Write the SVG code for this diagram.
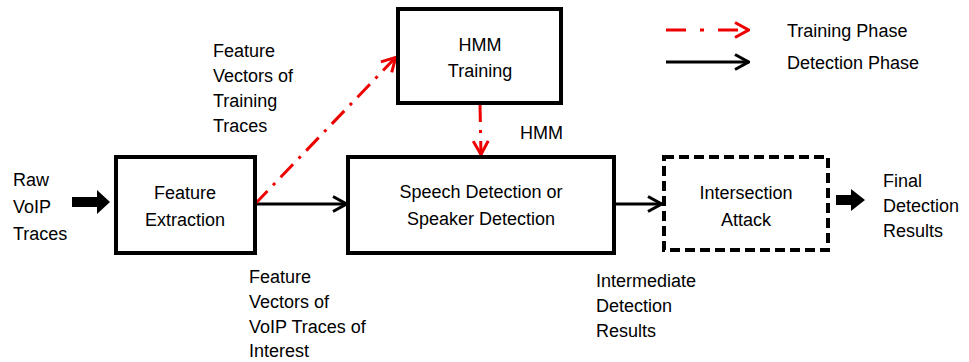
<svg xmlns="http://www.w3.org/2000/svg" width="969" height="362" viewBox="0 0 969 362">
<defs>
<marker id="ab" viewBox="0 0 16 18" refX="15" refY="9" markerWidth="16" markerHeight="18" markerUnits="userSpaceOnUse" orient="auto">
<path d="M1,1.5 L14.5,9 L1,16.5" fill="none" stroke="#000" stroke-width="3"/>
</marker>
<marker id="ar" viewBox="0 0 16 18" refX="15" refY="9" markerWidth="16" markerHeight="18" markerUnits="userSpaceOnUse" orient="auto">
<path d="M1,1.5 L14.5,9 L1,16.5" fill="none" stroke="#e00" stroke-width="3"/>
</marker>
</defs>
<style>
.box{fill:#fff;stroke:#000;stroke-width:4}
.dbox{fill:#fff;stroke:#000;stroke-width:4;stroke-dasharray:10,5}
.t{font-family:"Liberation Sans",Arial,sans-serif;font-size:18px;fill:#000}
.c{text-anchor:middle}
.blk{stroke:#000;stroke-width:3;fill:none;marker-end:url(#ab)}
.red{stroke:#e00;stroke-width:3;fill:none;stroke-dasharray:18,8,3,8;marker-end:url(#ar)}
</style>
<rect width="969" height="362" fill="#fff"/>
<g id="connectors">
<line class="blk" x1="255" y1="204" x2="347" y2="204"/>
<line class="blk" x1="614" y1="204" x2="662" y2="204"/>
<line class="red" x1="255" y1="204" x2="396" y2="57"/>
<line class="red" x1="480" y1="104" x2="481" y2="155"/>
<path d="M72,197 H97 V190 L110,202 L97,214 V207 H72 Z" fill="#000"/>
<path d="M836,195 H851 V189 L865,200 L851,211 V205 H836 Z" fill="#000"/>
</g>
<g id="legend">
<line class="red" x1="666" y1="30" x2="749" y2="30" style="stroke-dasharray:20,14,4,14"/>
<line class="blk" x1="666" y1="62" x2="749" y2="62"/>
<text class="t" x="787" y="37">Training Phase</text>
<text class="t" x="787" y="69">Detection Phase</text>
</g>
<g id="raw">
<text class="t" x="13" y="186">Raw</text>
<text class="t" x="13" y="213">VoIP</text>
<text class="t" x="13" y="240">Traces</text>
</g>
<g id="feature-extraction">
<rect class="box" x="116" y="157" width="139" height="96"/>
<text class="t c" x="185" y="199">Feature</text>
<text class="t c" x="185" y="226">Extraction</text>
</g>
<g id="hmm-training">
<rect class="box" x="398" y="9" width="163" height="94"/>
<text class="t c" x="480" y="51">HMM</text>
<text class="t c" x="480" y="77">Training</text>
</g>
<g id="speech-detection">
<rect class="box" x="348" y="157" width="266" height="96"/>
<text class="t c" x="481" y="198">Speech Detection or</text>
<text class="t c" x="481" y="225">Speaker Detection</text>
</g>
<g id="intersection-attack">
<rect class="dbox" x="664" y="157" width="164" height="93"/>
<text class="t c" x="746" y="199">Intersection</text>
<text class="t c" x="746" y="226">Attack</text>
</g>
<g id="final">
<text class="t" x="883" y="187">Final</text>
<text class="t" x="883" y="212">Detection</text>
<text class="t" x="883" y="237">Results</text>
</g>
<g id="labels">
<text class="t" x="520" y="139">HMM</text>
<text class="t" x="213" y="57">Feature</text>
<text class="t" x="213" y="82">Vectors of</text>
<text class="t" x="213" y="107">Training</text>
<text class="t" x="213" y="132">Traces</text>
<text class="t" x="249" y="283">Feature</text>
<text class="t" x="249" y="308">Vectors of</text>
<text class="t" x="249" y="333">VoIP Traces of</text>
<text class="t" x="249" y="357">Interest</text>
<text class="t" x="596" y="287">Intermediate</text>
<text class="t" x="596" y="312">Detection</text>
<text class="t" x="596" y="337">Results</text>
</g>
</svg>
